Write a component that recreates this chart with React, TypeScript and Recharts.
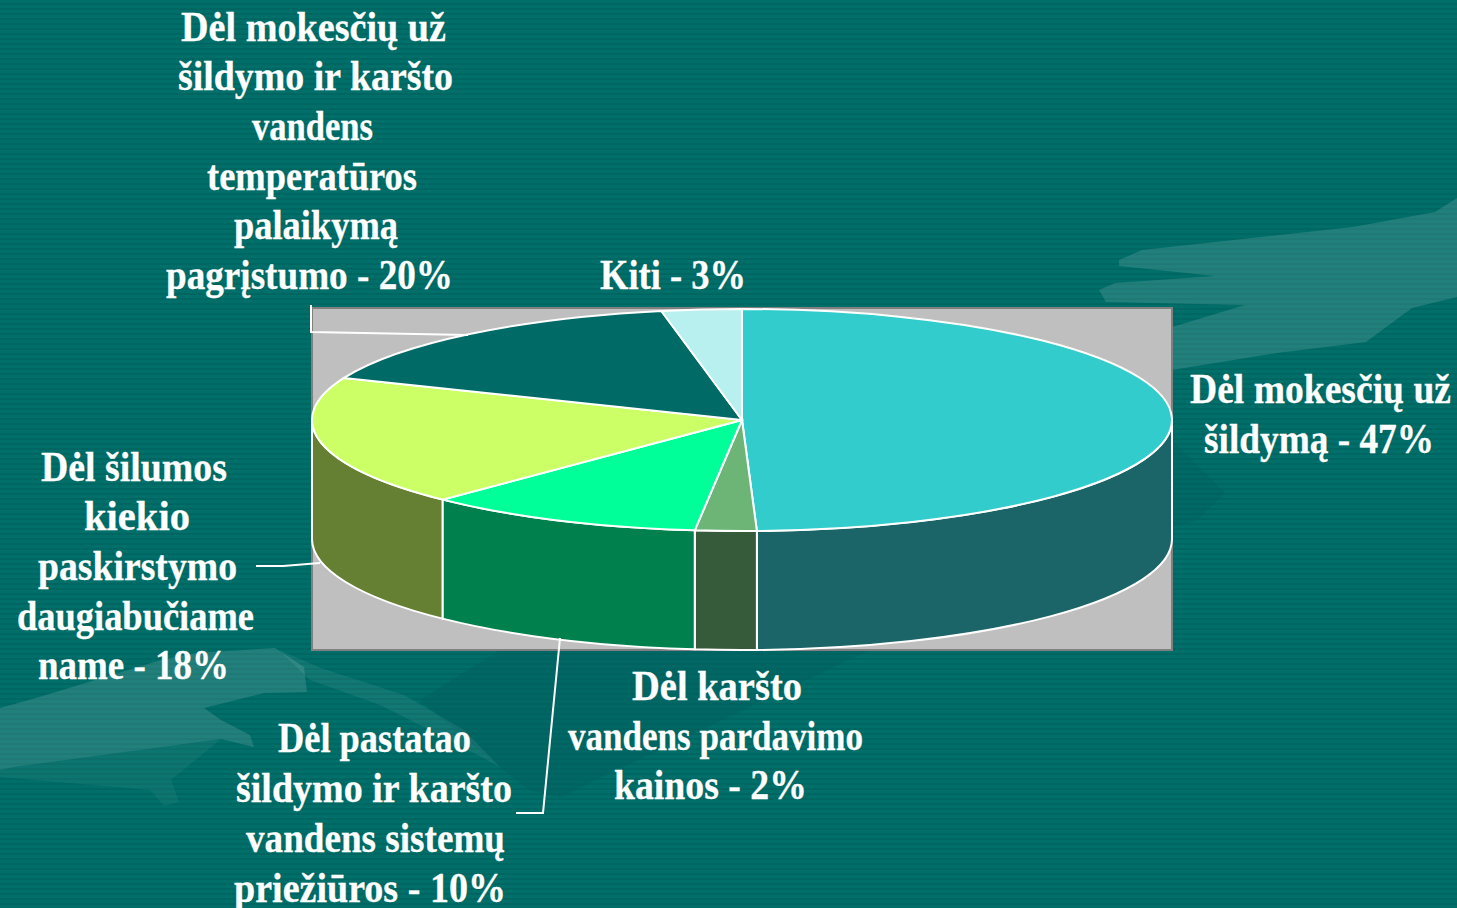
import { Pie, PieChart } from "recharts";

// Printed shares are in the label text. The slices in the picture are not drawn
// to those numbers (the biggest reads about 49%), so sizes are measured separately.
const sliceNames = [
  "Dėl mokesčių už šildymą",
  "Dėl karšto vandens pardavimo kainos",
  "Dėl pastatao šildymo ir karšto vandens sistemų priežiūros",
  "Dėl šilumos kiekio paskirstymo daugiabučiame name",
  "Dėl mokesčių už šildymo ir karšto vandens temperatūros palaikymą pagrįstumo",
  "Kiti",
];
const drawnShares = [49.4, 2.3, 10.5, 18.9, 15.8, 3.0];
const labelLines = [
  ["Dėl mokesčių už", "šildymą - 47%"],
  ["Dėl karšto", "vandens pardavimo", "kainos - 2%"],
  ["Dėl pastatao", "šildymo ir karšto", "vandens sistemų", "priežiūros - 10%"],
  ["Dėl šilumos", "kiekio", "paskirstymo", "daugiabučiame", "name - 18%"],
  ["Dėl mokesčių už", "šildymo ir karšto", "vandens", "temperatūros", "palaikymą", "pagrįstumo - 20%"],
  ["Kiti - 3%"],
];

// [left, right, baseline] of each printed line
const labelBoxes = [
  [[1190, 1451, 403], [1204, 1434, 453]],
  [[632, 802, 700], [568, 863, 750], [614, 807, 799]],
  [[278, 471, 752], [236, 512, 802], [246, 505, 852], [234, 506, 902]],
  [[41, 227, 481], [84, 190, 530], [38, 237, 580], [17, 254, 630], [38, 229, 679]],
  [[181, 446, 41], [178, 453, 90], [252, 373, 140], [207, 417, 190], [234, 398, 239], [166, 453, 289]],
  [[600, 746, 289]],
];
const leaders = [
  "",
  "",
  "516,813 543,813 560,638",
  "256,566 283,566 320,563",
  "311,305 311,332 468,335",
  "",
];

const topColors = ["#33CCCC", "#6DB577", "#00FF99", "#CCFF66", "#006B66", "#B8F0F0"];
const wallColors = ["#1B6467", "#365B3B", "#00804C", "#668033", "#00504D", "#5C7878"];

const WIDTH = 1457;
const HEIGHT = 908;
const RX = 430;
const RY = 111;
const DEPTH = 119;

const tableData = sliceNames.map((name, i) => ({
  name,
  value: drawnShares[i],
  fill: topColors[i],
  wall: wallColors[i],
}));

function EllipseSlice(props: any) {
  const { cx, cy, startAngle, endAngle, fill } = props;
  const wall = props.wall ?? props.payload?.wall;
  const at = (deg: number, dy = 0) => {
    const r = (deg * Math.PI) / 180;
    return `${cx + RX * Math.cos(r)} ${cy - RY * Math.sin(r) + dy}`;
  };
  // angles run clockwise, so start > end; the front rim is between 0 and -180
  const hi = Math.min(startAngle, 0);
  const lo = Math.max(endAngle, -180);
  const large = startAngle - endAngle > 180 ? 1 : 0;
  return (
    <g>
      {hi > lo && (
        <path
          d={`M${at(hi)} A${RX} ${RY} 0 0 1 ${at(lo)} L${at(lo, DEPTH)} A${RX} ${RY} 0 0 0 ${at(hi, DEPTH)} Z`}
          fill={wall}
          stroke="#fff"
          strokeWidth={2}
        />
      )}
      <path
        d={`M${cx} ${cy} L${at(startAngle)} A${RX} ${RY} 0 ${large} 1 ${at(endAngle)} Z`}
        fill={fill}
        stroke="#fff"
        strokeWidth={2}
      />
    </g>
  );
}

function SliceLabel(props: any) {
  const i = props.index;
  return (
    <g>
      {leaders[i] && <polyline points={leaders[i]} fill="none" stroke="#fff" strokeWidth={2} />}
      {labelLines[i].map((line, k) => {
        const [left, right, base] = labelBoxes[i][k];
        return (
          <text
            key={k}
            x={left}
            y={base}
            textLength={right - left}
            lengthAdjust="spacingAndGlyphs"
            fontFamily="'Liberation Serif', serif"
            fontWeight="bold"
            fontSize={42}
            fill="#fff"
            stroke="#fff"
            strokeWidth={0.3}
          >
            {line}
          </text>
        );
      })}
    </g>
  );
}

// faint leaf artwork of the slide background
function Backdrop() {
  return (
    <svg width={WIDTH} height={HEIGHT} style={{ position: "absolute", left: 0, top: 0 }}>
      <polygon points="420,700 500,650 869,650 560,797 530,790 500,767" fill="#005F60" opacity={0.5} />
      <polygon points="1172,440 1225,493 1197,520 1172,527" fill="#005F60" opacity={0.4} />
      <polygon
        points="1119,260 1142,250 1353,227 1435,212 1457,198 1457,297 1412,308 1366,342 1277,353 1172,370 1172,327 1245,305 1106,302 1099,290 1115,283 1215,276 1119,266"
        fill="#fff"
        opacity={0.13}
      />
      <polygon
        points="0,708 36,698 161,660 196,653 275,648 304,667 307,692 264,693 204,708 221,720 250,735 254,747 221,739 14,767 0,770"
        fill="#fff"
        opacity={0.13}
      />
      <polygon points="0,770 14,767 221,739 171,780 179,802 164,806 150,790 0,777" fill="#fff" opacity={0.05} />
      <polygon
        points="279,650 321,668 404,695 464,730 500,767 446,738 380,705 310,680"
        fill="#fff"
        opacity={0.07}
      />
    </svg>
  );
}

export default function App() {
  return (
    <div
      style={{
        position: "absolute",
        left: 0,
        top: 0,
        width: WIDTH,
        height: HEIGHT,
        overflow: "hidden",
        background:
          "repeating-linear-gradient(180deg, #006E69 0px, #006E69 3px, #006661 3px, #006661 5px)",
      }}
    >
      <Backdrop />
      <div style={{ position: "absolute", left: 0, top: 0 }}>
        <PieChart width={WIDTH} height={HEIGHT} margin={{ top: 0, right: 0, bottom: 0, left: 0 }}>
          <rect x={312} y={308} width={860} height={342} fill="#BFBFBF" stroke="#808080" strokeWidth={2} />
          <Pie
            data={tableData}
            dataKey="value"
            nameKey="name"
            cx={742}
            cy={420}
            innerRadius={0}
            outerRadius={RX}
            startAngle={90}
            endAngle={-270}
            paddingAngle={0}
            shape={EllipseSlice}
            label={SliceLabel}
            labelLine={false}
            isAnimationActive={false}
          />
        </PieChart>
      </div>
    </div>
  );
}
